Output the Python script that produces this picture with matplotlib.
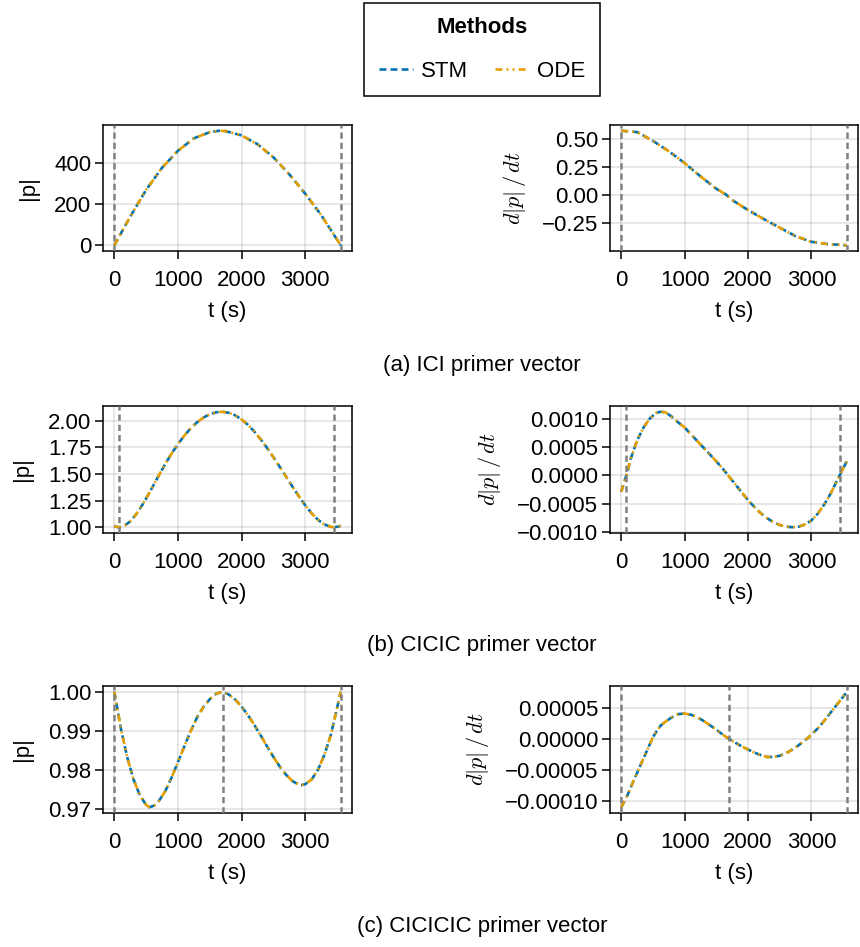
import numpy as np
import matplotlib
matplotlib.use("Agg")
import matplotlib.pyplot as plt
from matplotlib.lines import Line2D
from matplotlib.ticker import FuncFormatter

##### Data ####################################################################

# (a) ICI: impulses at start and end
t_a = [0, 250, 500, 750, 1000, 1250, 1500, 1650, 1750, 2000, 2250, 2500,
       2750, 3000, 3250, 3557]
p_a = [0, 140, 271, 379, 462, 523, 553, 560, 558, 537, 494, 430, 347, 252,
       148, 0]
dp_a = [0.570, 0.558, 0.480, 0.388, 0.283, 0.165, 0.055, 0.005, -0.045,
        -0.134, -0.214, -0.290, -0.365, -0.415, -0.435, -0.446]
imp_a = [0, 3557]

# (b) CICIC
t_b = [0, 40, 80, 150, 250, 350, 450, 550, 620, 700, 800, 900, 1000, 1100,
       1200, 1300, 1400, 1500, 1600, 1700, 1800, 1900, 2000, 2100, 2200,
       2300, 2400, 2500, 2600, 2700, 2800, 2900, 3000, 3100, 3200, 3300,
       3400, 3445, 3500, 3557]
p_b = [1.012, 1.003, 1.000, 1.010, 1.055, 1.127, 1.219, 1.323, 1.400, 1.488,
       1.594, 1.692, 1.781, 1.861, 1.930, 1.986, 2.030, 2.062, 2.080, 2.085,
       2.075, 2.051, 2.013, 1.962, 1.899, 1.826, 1.745, 1.658, 1.567, 1.474,
       1.381, 1.291, 1.206, 1.131, 1.070, 1.027, 1.004, 1.000, 1.004, 1.012]
dp_b = [-0.00029, -0.00014, 0.0, 0.00030, 0.00062, 0.00085, 0.00101,
        0.00111, 0.00113, 0.00112, 0.00104, 0.00094, 0.00085, 0.00073,
        0.00061, 0.00049, 0.00037, 0.00025, 0.00012, -0.00002, -0.00016,
        -0.00030, -0.00044, -0.00056, -0.00067, -0.00076, -0.00083,
        -0.00088, -0.00091, -0.00092, -0.00091, -0.00087, -0.00080,
        -0.00068, -0.00052, -0.00033, -0.00010, 0.0, 0.00012, 0.00025]
imp_b = [80, 3445]

# (c) CICICIC
t_c = [0, 100, 200, 300, 400, 500, 550, 625, 700, 800, 900, 1000, 1100,
       1200, 1300, 1400, 1500, 1600, 1700, 1800, 1900, 2000, 2100, 2200,
       2300, 2400, 2500, 2600, 2700, 2800, 2900, 2950, 3000, 3100, 3200,
       3300, 3400, 3500, 3557]
p_c = [1.000, 0.9908, 0.9834, 0.9776, 0.9735, 0.9710, 0.9704, 0.9708,
       0.9720, 0.9745, 0.9780, 0.9820, 0.9860, 0.9899, 0.9934, 0.9961,
       0.9981, 0.9995, 1.000, 0.9993, 0.9980, 0.9962, 0.9940, 0.9915,
       0.9888, 0.9860, 0.9833, 0.9808, 0.9787, 0.9771, 0.9762, 0.9761,
       0.9763, 0.9775, 0.9800, 0.9838, 0.9888, 0.9958, 1.000]
dp_c = [-0.000110, -0.000090, -0.000066, -0.000043, -0.000020, 0.000003,
        0.000011, 0.000022, 0.000028, 0.000035, 0.000040, 0.000041,
        0.000039, 0.000035, 0.000029, 0.000022, 0.000015, 0.000007, 0.0,
        -0.000006, -0.000012, -0.000017, -0.000022, -0.000026, -0.000029,
        -0.000029, -0.000027, -0.000023, -0.000017, -0.000010, -0.000002,
        0.000002, 0.000007, 0.000017, 0.000029, 0.000042, 0.000055,
        0.000068, 0.000076]
imp_c = [0, 1700, 3557]

captions = ["(a) ICI primer vector", "(b) CICIC primer vector",
            "(c) CICICIC primer vector"]
xticks = [0, 1000, 2000, 3000]
yticks_left = [[0, 200, 400], [1.00, 1.25, 1.50, 1.75, 2.00],
               [0.97, 0.98, 0.99, 1.00]]
yticks_right = [[-0.25, 0.00, 0.25, 0.50],
                [-0.0010, -0.0005, 0.0000, 0.0005, 0.0010],
                [-0.00010, -0.00005, 0.00000, 0.00005]]
fmt_left = ["%d", "%.2f", "%.2f"]
fmt_right = ["%.2f", "%.4f", "%.5f"]

##### Style ###################################################################

plt.rcParams["font.family"] = ["Liberation Sans", "DejaVu Sans"]
plt.rcParams["font.size"] = 16
plt.rcParams["mathtext.fontset"] = "cm"

STM_COLOR = "#0072B2"
ODE_COLOR = "#E69F00"
STM_DASH = (2.6, 1.6)
ODE_DASH = (2.6, 1.6, 0.7, 1.6, 0.7, 1.6)
LW = 1.9

W, H = 860, 947
fig = plt.figure(figsize=(W / 100, H / 100), dpi=100)

def px_axes(x0, y0, x1, y1):
  return fig.add_axes([x0 / W, 1 - y1 / H, (x1 - x0) / W, (y1 - y0) / H])

def minus_fmt(f):
  return FuncFormatter(lambda v, pos: (f % v).replace("-", "\u2212"))

def style(ax, yticks, f):
  ax.set_xticks(xticks)
  ax.set_yticks(yticks)
  ax.yaxis.set_major_formatter(minus_fmt(f))
  ax.xaxis.set_major_formatter(minus_fmt("%d"))
  ax.grid(True, color="black", alpha=0.12, lw=1.1)
  ax.set_axisbelow(True)
  for s in ax.spines.values():
    s.set_linewidth(1.1)
  ax.tick_params(length=5.5, width=1.1, pad=3)
  ax.tick_params(axis="x", pad=8)
  ax.set_xlabel("t (s)", labelpad=7.5)

def draw(ax, t, y, imps):
  ax.plot(t, y, color=STM_COLOR, lw=LW, dashes=STM_DASH)
  ax.plot(t, y, color=ODE_COLOR, lw=LW, dashes=ODE_DASH)
  for ti in imps:
    ax.axvline(ti, color="gray", lw=1.8, dashes=(2.5, 1.6), zorder=3)

rows = [(125, 251), (406, 533), (686, 813)]
cap_y = [365, 645, 926]
data = [(t_a, p_a, dp_a, imp_a), (t_b, p_b, dp_b, imp_b),
        (t_c, p_c, dp_c, imp_c)]

for i, (y0, y1) in enumerate(rows):
  t, p, dp, imps = data[i]

  ax = px_axes(103, y0, 352, y1)
  draw(ax, t, p, imps)
  style(ax, yticks_left[i], fmt_left[i])
  ax.set_ylabel("|p|", labelpad=11)

  ax = px_axes(610, y0, 858, y1)
  draw(ax, t, dp, imps)
  style(ax, yticks_right[i], fmt_right[i])
  ax.set_ylabel(r"$d|p|\,/\,dt$", labelpad=10)

  fig.text(482 / W, 1 - cap_y[i] / H, captions[i], ha="center", va="center")

# Legend at the top
handles = [
  Line2D([], [], color=STM_COLOR, lw=LW, dashes=STM_DASH),
  Line2D([], [], color=ODE_COLOR, lw=LW, dashes=ODE_DASH),
]
leg = fig.legend(handles, ["STM", "ODE"], ncol=2, title="Methods",
                 loc="upper center", bbox_to_anchor=(482 / W, 1 - 3 / H),
                 borderaxespad=0, frameon=True, fancybox=False,
                 handlelength=1.55, handletextpad=0.36, columnspacing=1.2,
                 borderpad=0.65, labelspacing=1.0, title_fontsize=16)
leg.get_title().set_fontweight("bold")
leg.get_frame().set_edgecolor("black")
leg.get_frame().set_linewidth(1.1)
leg.get_frame().set_alpha(1)

fig.savefig("out.png", dpi=100)
